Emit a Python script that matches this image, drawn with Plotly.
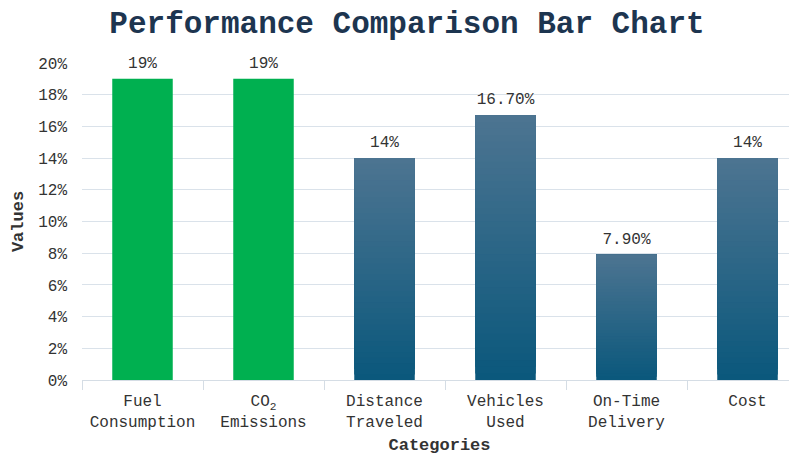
import plotly.graph_objects as go

categories = ["Fuel<br>Consumption", "CO<sub>2</sub><br>Emissions", "Distance<br>Traveled",
              "Vehicles<br>Used", "On-Time<br>Delivery", "Cost"]
values = [0.19, 0.19, 0.14, 0.167, 0.079, 0.14]
labels = ["19%", "19%", "14%", "16.70%", "7.90%", "14%"]
highlight = [True, True, False, False, False, False]

FONT = "Liberation Mono, Courier New, monospace"
GREEN = "#00b050"
BOTTOM = (11, 88, 124)
TOP = (76, 116, 145)
N = 40

fig = go.Figure()

hx = [c for c, h in zip(categories, highlight) if h]
hy = [v for v, h in zip(values, highlight) if h]
fig.add_trace(go.Bar(x=hx, y=hy, marker=dict(color=GREEN, line=dict(width=0)),
                     width=0.5, showlegend=False, hoverinfo="skip"))

gx = [c for c, h in zip(categories, highlight) if not h]
gy = [v for v, h in zip(values, highlight) if not h]
for k in range(N):
    t = k / (N - 1)
    col = "rgb({},{},{})".format(*[round(b + (tp - b) * t) for b, tp in zip(BOTTOM, TOP)])
    fig.add_trace(go.Bar(x=gx, y=[v * (1 - k / N) for v in gy], base=[v * k / N for v in gy],
                         marker=dict(color=col, line=dict(width=0)), width=0.5,
                         showlegend=False, hoverinfo="skip"))

fig.add_trace(go.Scatter(x=categories, y=values, mode="markers+text", text=labels,
                         textposition="top center",
                         marker=dict(size=10, opacity=0),
                         textfont=dict(family=FONT, size=16, color="#333333"),
                         cliponaxis=False, showlegend=False, hoverinfo="skip"))

fig.update_layout(
    width=797, height=455,
    barmode="overlay",
    plot_bgcolor="white", paper_bgcolor="white",
    margin=dict(l=74, r=8, t=55, b=83, autoexpand=False),
    title=dict(text="<b>Performance Comparison Bar Chart</b>", x=0.5006, xanchor="center",
               y=1 - 14 / 455, yanchor="middle",
               font=dict(family=FONT, size=31, color="#1d3550")),
    font=dict(family=FONT, size=17, color="#333333"),
)
fig.update_xaxes(
    type="category", range=[-0.5, 5.409], tickson="boundaries",
    ticks="outside", ticklen=9, tickcolor="#d5dde5", tickwidth=1,
    showline=True, linecolor="#d5dde5", linewidth=1, showgrid=False,
    ticklabelstandoff=6,
    tickfont=dict(family=FONT, size=16, color="#333333"),
    title=dict(text="<b>Categories</b>", standoff=7,
               font=dict(family=FONT, size=17, color="#333333")),
    automargin=False,
)
fig.update_yaxes(
    range=[0, 0.2], dtick=0.02, tickformat=".0%",
    showgrid=True, gridcolor="#dae2ea", gridwidth=1, zeroline=False,
    ticks="", ticklabelstandoff=14,
    tickfont=dict(family=FONT, size=16, color="#333333"),
    title=dict(text="<b>Values</b>", standoff=10,
               font=dict(family=FONT, size=17, color="#333333")),
    automargin=False,
)

fig.write_html("out.html")
